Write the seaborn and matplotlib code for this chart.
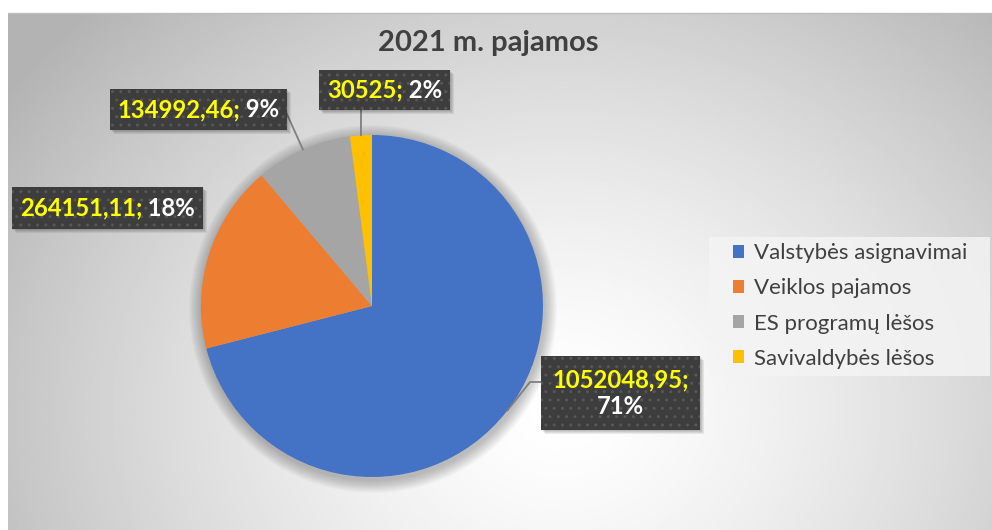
import matplotlib
matplotlib.use("Agg")
import matplotlib.pyplot as plt
from matplotlib.patches import Rectangle, Circle
import seaborn as sns
import numpy as np

# data
categories = ["Valstybės asignavimai", "Veiklos pajamos", "ES programų lėšos", "Savivaldybės lėšos"]
values = [1052048.95, 264151.11, 134992.46, 30525]
value_labels = ["1052048,95;", "264151,11;", "134992,46;", "30525;"]
title = "2021 m. pajamos"

sns.set_theme(style="white")
plt.rcParams["font.family"] = ["Lato", "DejaVu Sans"]
colors = sns.color_palette(["#4472C4", "#ED7D31", "#A5A5A5", "#FFC000"])

W, H = 992, 530
fig = plt.figure(figsize=(W / 100, H / 100), dpi=100)
fig.patch.set_facecolor("white")
ax = fig.add_axes([0, 0, 1, 1])

# radial grey background of the chart area (pixel coords, y up)
x0, x1, y0, y1 = 8, W, 0, H - 13
gx, gy = np.meshgrid(np.linspace(x0, x1, 500), np.linspace(y0, y1, 270))
d = np.hypot((gx - 560) / 560, (gy - 120) / 470)
shade = 1 - 0.23 * np.clip(d, 0, 1.2) ** 1.4
ax.imshow(shade, cmap="gray", vmin=0, vmax=1, extent=(x0, x1, y0, y1),
          origin="lower", zorder=0, interpolation="bilinear")
ax.plot([x0, x1], [y1, y1], color="#bdbdbd", lw=1, zorder=1)

# pie
cx, cy, r = 372, H - 306, 171
for k in range(1, 14):
    ax.add_patch(Circle((cx + 1, cy - 3), r + k, color="black", alpha=0.018, lw=0, zorder=1))
wedges, _ = ax.pie(values, colors=colors, startangle=90, counterclock=False,
                   center=(cx, cy), radius=r, wedgeprops=dict(linewidth=0, zorder=2))

renderer = fig.canvas.get_renderer()
total = sum(values)

# label boxes: left, top, width, height (pixels from top), leader path end
boxes = [
    (541, 356, 159, 74, [(530, 382), (541, 382)], True),
    (12, 187, 191, 42, None, False),
    (110, 89, 177, 41, [(286, 112)], False),
    (319, 70, 131, 40, [(361, 110)], False),
]
fs = 17.2
for w, val, lab, (bl, bt, bw, bh, path, two) in zip(wedges, values, value_labels, boxes):
    pct = f"{round(100 * val / total)}%"
    mid = np.deg2rad((w.theta1 + w.theta2) / 2)
    ex, ey = cx + r * np.cos(mid), cy + r * np.sin(mid)
    if path:
        px = [ex] + [p[0] for p in path]
        py = [ey] + [H - p[1] for p in path]
        ax.plot(px, py, color="#7f7f7f", lw=1.3, zorder=3)
    for s in range(1, 5):
        ax.add_patch(Rectangle((bl + s, H - bt - bh - s), bw, bh, color="black",
                               alpha=0.07, lw=0, zorder=4))
    ax.add_patch(Rectangle((bl, H - bt - bh), bw, bh, facecolor="#3d3d3d",
                           edgecolor="#575757", hatch="..", lw=0, zorder=5))
    mx, my = bl + bw / 2, H - bt - bh / 2
    if two:
        ax.text(mx, my + 13, lab, color="#FFFF00", fontsize=fs, fontweight="bold",
                ha="center", va="center", zorder=6)
        ax.text(mx, my - 14, pct, color="white", fontsize=fs, fontweight="bold",
                ha="center", va="center", zorder=6)
    else:
        t1 = ax.text(0, my, lab, color="#FFFF00", fontsize=fs, fontweight="bold",
                     ha="left", va="center", zorder=6)
        t2 = ax.text(0, my, " " + pct, color="white", fontsize=fs, fontweight="bold",
                     ha="left", va="center", zorder=6)
        w1 = t1.get_window_extent(renderer).width
        w2 = t2.get_window_extent(renderer).width
        start = mx - (w1 + w2) / 2
        t1.set_x(start)
        t2.set_x(start + w1)

ax.set_aspect("auto")
ax.set_xlim(0, W)
ax.set_ylim(0, H)
ax.axis("off")

fig.text(488 / W, 1 - 43 / H, title, ha="center", va="center", fontsize=21,
         fontweight="bold", color="#404040")

# legend background box
ax.add_patch(Rectangle((709, H - 376), 281, 139, facecolor="#f4f4f4", alpha=0.85,
                       lw=0, zorder=6))
leg = ax.legend(wedges, categories, loc="center left",
                bbox_to_anchor=(733 / W, 1 - 306 / H), borderaxespad=0,
                frameon=False, fontsize=16, labelcolor="#404040",
                handlelength=0.5, handleheight=0.5, handletextpad=0.45,
                labelspacing=0.68, borderpad=0)
leg.set_zorder(7)

fig.savefig("out.png", dpi=100)
